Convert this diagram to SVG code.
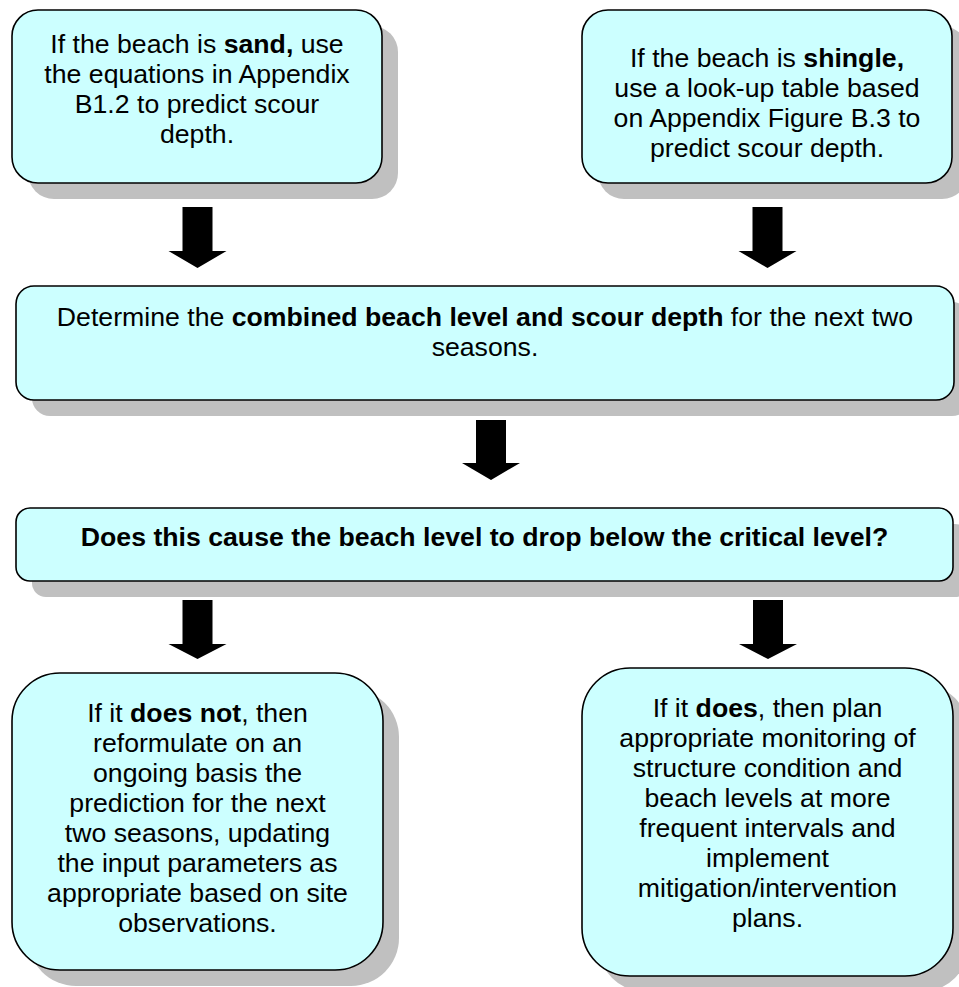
<svg xmlns="http://www.w3.org/2000/svg" width="959" height="987" viewBox="0 0 959 987">
<style>
.box{fill:#ccffff;stroke:#000;stroke-width:1.6}
.shadow{fill:#c0c0c0}
.t{font-family:"Liberation Sans",Arial,sans-serif;font-size:26.67px;fill:#000;text-anchor:middle}
.b{font-weight:bold}
.arrow{fill:#000}
</style>
<rect width="959" height="987" fill="#fff"/>
<g id="node-sand">
<rect class="shadow" x="28" y="26" width="370" height="173" rx="26"/>
<rect class="box" x="12" y="10" width="370" height="173" rx="26"/>
<text class="t" x="197" y="53">If the beach is <tspan class="b">sand,</tspan> use</text>
<text class="t" x="197" y="83">the equations in Appendix</text>
<text class="t" x="197" y="113">B1.2 to predict scour</text>
<text class="t" x="197" y="143">depth.</text>
</g>
<g id="node-shingle">
<rect class="shadow" x="598" y="26" width="370" height="173" rx="26"/>
<rect class="box" x="582" y="10" width="370" height="173" rx="26"/>
<text class="t" x="767" y="67">If the beach is <tspan class="b">shingle,</tspan></text>
<text class="t" x="767" y="97">use a look-up table based</text>
<text class="t" x="767" y="127">on Appendix Figure B.3 to</text>
<text class="t" x="767" y="157">predict scour depth.</text>
</g>
<g id="node-combined">
<rect class="shadow" x="32" y="302" width="938" height="114" rx="18"/>
<rect class="box" x="16" y="286" width="938" height="114" rx="18"/>
<text class="t" x="485" y="326">Determine the <tspan class="b">combined beach level and scour depth</tspan> for the next two</text>
<text class="t" x="485" y="356">seasons.</text>
</g>
<g id="node-decision">
<rect class="shadow" x="32" y="524" width="937" height="73" rx="14"/>
<rect class="box" x="16" y="508" width="937" height="73" rx="14"/>
<text class="t b" x="484.5" y="546">Does this cause the beach level to drop below the critical level?</text>
</g>
<g id="node-does-not">
<rect class="shadow" x="28" y="689" width="371" height="297" rx="48"/>
<rect class="box" x="12" y="673" width="371" height="297" rx="48"/>
<text class="t" x="197.5" y="722">If it <tspan class="b">does not</tspan>, then</text>
<text class="t" x="197.5" y="752">reformulate on an</text>
<text class="t" x="197.5" y="782">ongoing basis the</text>
<text class="t" x="197.5" y="812">prediction for the next</text>
<text class="t" x="197.5" y="842">two seasons, updating</text>
<text class="t" x="197.5" y="872">the input parameters as</text>
<text class="t" x="197.5" y="902">appropriate based on site</text>
<text class="t" x="197.5" y="932">observations.</text>
</g>
<g id="node-does">
<rect class="shadow" x="598" y="684" width="371" height="308" rx="48"/>
<rect class="box" x="582" y="668" width="371" height="308" rx="48"/>
<text class="t" x="767.5" y="717">If it <tspan class="b">does</tspan>, then plan</text>
<text class="t" x="767.5" y="747">appropriate monitoring of</text>
<text class="t" x="767.5" y="777">structure condition and</text>
<text class="t" x="767.5" y="807">beach levels at more</text>
<text class="t" x="767.5" y="837">frequent intervals and</text>
<text class="t" x="767.5" y="867">implement</text>
<text class="t" x="767.5" y="897">mitigation/intervention</text>
<text class="t" x="767.5" y="927">plans.</text>
</g>
<g id="connectors">
<polygon class="arrow" points="182.5,207 212.5,207 212.5,251 226.5,251 197.5,268 168.5,251 182.5,251"/>
<polygon class="arrow" points="752.5,207 782.5,207 782.5,251 796.5,251 767.5,268 738.5,251 752.5,251"/>
<polygon class="arrow" points="476,420 506,420 506,463 520,463 491,480 462,463 476,463"/>
<polygon class="arrow" points="182.5,600 212.5,600 212.5,644 226.5,644 197.5,659 168.5,644 182.5,644"/>
<polygon class="arrow" points="753,600 783,600 783,644 797,644 768,659 739,644 753,644"/>
</g>
</svg>
